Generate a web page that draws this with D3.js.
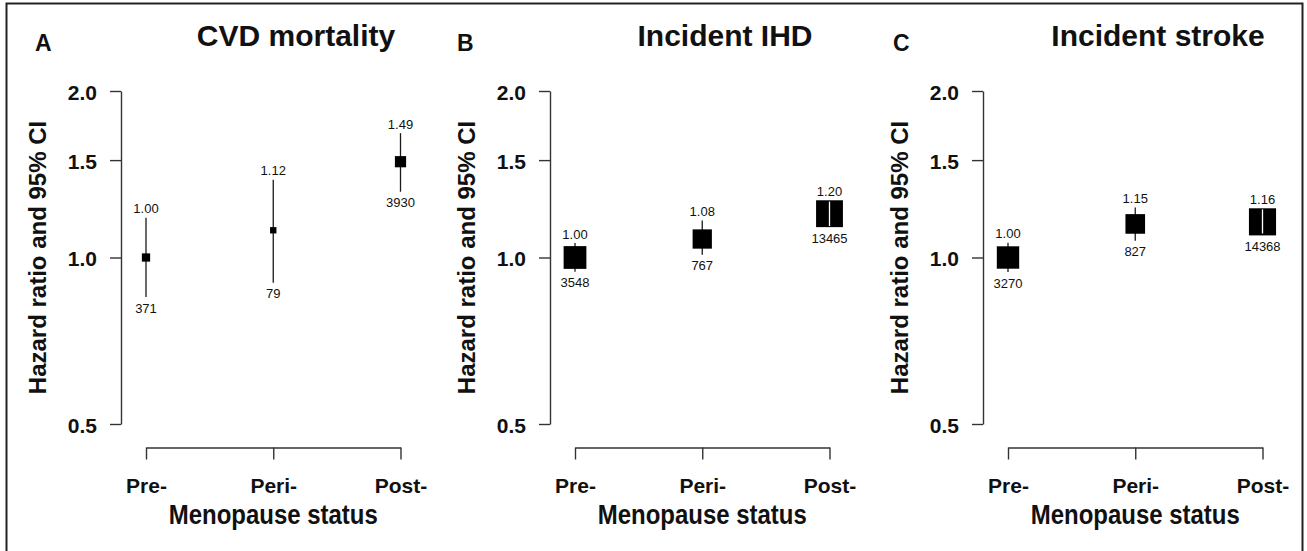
<!DOCTYPE html>
<html lang="en">
<head>
  <meta charset="UTF-8">
  <title>Menopause status and hazard ratios</title>
  <script src="https://cdn.jsdelivr.net/npm/d3@7"></script>
  <style>
    html, body { margin: 0; padding: 0; background: #fff; }
    svg { display: block; font-family: "Liberation Sans", Arial, Helvetica, sans-serif; }
    .axis path, .axis line { stroke: #333; stroke-width: 1.4; }
    .ci { stroke: #1a1a1a; stroke-width: 1.3; }
    .num { font-size: 13px; fill: #111; text-anchor: middle; }
  </style>
</head>
<body>
  <svg width="1307" height="551"></svg>

  <script>
    // --- Data ---
    const statuses = ["Pre-", "Peri-", "Post-"];
    const outcomes = ["CVD mortality", "Incident IHD", "Incident stroke"];
    const panelLetters = ["A", "B", "C"];
    const hazardRatios = [[1.00, 1.12, 1.49], [1.00, 1.08, 1.20], [1.00, 1.15, 1.16]];
    const ciLower = [[0.848, 0.900, 1.315], [0.942, 1.012, 1.140], [0.941, 1.072, 1.105]];
    const ciUpper = [[1.180, 1.382, 1.678], [1.062, 1.166, 1.262], [1.063, 1.232, 1.222]];
    const eventCounts = [[371, 79, 3930], [3548, 767, 13465], [3270, 827, 14368]];
    const yTicks = [0.5, 1.0, 1.5, 2.0];

    // --- Layout ---
    const width = 1307, height = 551;
    const panelLeft = [0, 429, 862];
    const letterX = [35, 457, 893];
    const axisOffset = 121;          // y axis position inside a panel
    const xAxisY = 447.5;

    const svg = d3.select("svg");

    // outer frame
    svg.append("rect")
       .attr("x", 6.5).attr("y", 3.5)
       .attr("width", 1296).attr("height", 600)
       .attr("fill", "none")
       .attr("stroke", "#222")
       .attr("stroke-width", 2);

    // shared log scale for hazard ratio
    const y = d3.scaleLog().domain([0.5, 2]).range([424, 91]);
    // box side grows with precision (1 / width of log CI)
    const boxSize = d3.scaleLinear().domain([0, 1]).range([0, 2.73]);

    outcomes.forEach((title, p) => {
      const left = panelLeft[p];
      const axisX = left + axisOffset;
      const g = svg.append("g");

      const x = d3.scalePoint().domain(statuses).range([left + 146, left + 400.5]);

      // y axis
      const yAxis = g.append("g")
        .attr("class", "axis")
        .attr("transform", `translate(${axisX},0)`)
        .call(d3.axisLeft(y).tickValues(yTicks).tickFormat(d3.format(".1f"))
              .tickSize(11).tickSizeOuter(0).tickPadding(13));
      yAxis.selectAll("text")
        .attr("font-size", 21).attr("font-weight", "bold")
        .attr("font-family", "Liberation Sans, Arial, sans-serif")
        .attr("fill", "#111").attr("dy", "0.4em");

      // x axis (bracket)
      const xAxis = g.append("g")
        .attr("class", "axis")
        .attr("transform", `translate(0,${xAxisY})`)
        .call(d3.axisBottom(x).tickSize(12).tickSizeOuter(0).tickPadding(18.5));
      xAxis.selectAll("text")
        .attr("font-size", 21).attr("font-weight", "bold")
        .attr("font-family", "Liberation Sans, Arial, sans-serif")
        .attr("fill", "#111");

      // titles
      g.append("text")
        .attr("x", axisX + 175).attr("y", 46)
        .attr("text-anchor", "middle")
        .attr("font-size", 30).attr("font-weight", "bold").attr("fill", "#111")
        .text(title);

      g.append("text")
        .attr("x", letterX[p]).attr("y", 51)
        .attr("font-size", 23).attr("font-weight", "bold").attr("fill", "#111")
        .text(panelLetters[p]);

      g.append("text")
        .attr("transform", `translate(${axisX - 75},257.5) rotate(-90)`)
        .attr("text-anchor", "middle")
        .attr("font-size", 24).attr("font-weight", "bold").attr("fill", "#111")
        .text("Hazard ratio and 95% CI");

      g.append("text")
        .attr("x", x("Peri-")).attr("y", 523.5)
        .attr("text-anchor", "middle")
        .attr("font-size", 27).attr("font-weight", "bold").attr("fill", "#111")
        .attr("textLength", 209).attr("lengthAdjust", "spacingAndGlyphs")
        .text("Menopause status");

      // estimates
      const rows = statuses.map((s, i) => ({
        status: s,
        hr: hazardRatios[p][i],
        lo: ciLower[p][i],
        hi: ciUpper[p][i],
        n: eventCounts[p][i]
      }));

      const est = g.append("g").selectAll("g")
        .data(rows)
        .join("g");

      est.each(function(d) {
        const cx = x(d.status), cy = y(d.hr);
        const side = boxSize(1 / Math.log(d.hi / d.lo));
        const half = side / 2;
        const yHi = y(d.hi), yLo = y(d.lo);
        const sel = d3.select(this);

        sel.append("line").attr("class", "ci")
          .attr("x1", cx).attr("x2", cx).attr("y1", yHi).attr("y2", yLo);

        sel.append("rect")
          .attr("x", cx - half).attr("y", cy - half)
          .attr("width", side).attr("height", side)
          .attr("fill", "#000");

        // CI hidden by the box: draw it in white
        if (cy - yHi < half && yLo - cy < half) {
          sel.append("line")
            .attr("x1", cx).attr("x2", cx).attr("y1", yHi).attr("y2", yLo)
            .attr("stroke", "#fff").attr("stroke-width", 1.3);
        }

        const top = Math.min(yHi, cy - half);
        const bottom = Math.max(yLo, cy + half);

        sel.append("text").attr("class", "num")
          .attr("x", cx).attr("y", top - 4.5)
          .text(d.hr.toFixed(2));

        sel.append("text").attr("class", "num")
          .attr("x", cx).attr("y", bottom + 15.5)
          .text(d.n);
      });
    });
  </script>
</body>
</html>
